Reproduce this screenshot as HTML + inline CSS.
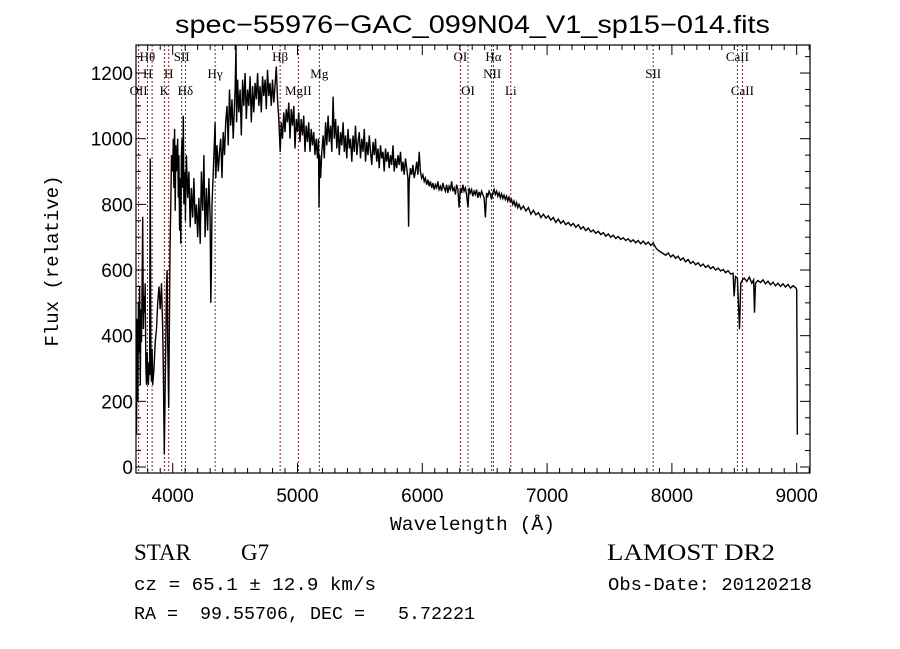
<!DOCTYPE html>
<html><head><meta charset="utf-8"><style>
body{margin:0;background:#fff;}
svg{display:block;font-family:"Liberation Sans",sans-serif;}
</style></head><body>
<svg id="c" width="900" height="649" viewBox="0 0 900 649">
<rect width="900" height="649" fill="#fff"/>
<text x="175" y="33" font-size="25" textLength="595" lengthAdjust="spacingAndGlyphs">spec−55976−GAC_099N04_V1_sp15−014.fits</text>
<g id="lines"></g>
<g id="spec"></g>
<g id="axes"></g>
<text x="390" y="530" font-size="19" textLength="165" lengthAdjust="spacingAndGlyphs" font-family="Liberation Mono, monospace">Wavelength (Å)</text>
<text transform="translate(58,261) rotate(-90)" font-size="19" text-anchor="middle" font-family="Liberation Mono, monospace">Flux (relative)</text>
<text x="134" y="560" font-size="23" font-family="Liberation Serif, serif">STAR</text>
<text x="241" y="560" font-size="23" font-family="Liberation Serif, serif">G7</text>
<text x="134" y="590" font-size="18" textLength="242" lengthAdjust="spacingAndGlyphs" font-family="Liberation Mono, monospace">cz = 65.1 ± 12.9 km/s</text>
<text x="134" y="619" font-size="18" textLength="341" lengthAdjust="spacingAndGlyphs" font-family="Liberation Mono, monospace" xml:space="preserve">RA =  99.55706, DEC =   5.72221</text>
<text x="607" y="560" font-size="23" textLength="168" lengthAdjust="spacingAndGlyphs" font-family="Liberation Serif, serif">LAMOST DR2</text>
<text x="608" y="590" font-size="18" textLength="204" lengthAdjust="spacingAndGlyphs" font-family="Liberation Mono, monospace">Obs-Date: 20120218</text>
</svg>
<script>
const wave=[
3700,3705,3710,3715,3720,3725,3730,3735,3740,3745,
3750,3755,3760,3765,3770,3775,3780,3785,3790,3795,
3800,3805,3810,3815,3820,3825,3830,3835,3840,3850,
3860,3870,3880,3890,3900,3910,3920,3925,3933,3940,
3950,3955,3960,3968,3978,3985,3990,4000,4005,4010,
4015,4020,4025,4030,4040,4045,4050,4055,4060,4065,
4070,4075,4080,4085,4090,4100,4102,4110,4120,4130,
4140,4150,4160,4170,4180,4190,4200,4210,4220,4230,
4240,4250,4260,4270,4280,4290,4300,4305,4310,4315,
4325,4335,4340,4345,4355,4365,4375,4385,4395,4405,
4415,4425,4435,4445,4455,4465,4475,4485,4500,4507,
4512,4520,4530,4540,4550,4560,4570,4580,4590,4600,
4610,4620,4630,4640,4650,4660,4670,4680,4690,4700,
4710,4720,4730,4740,4750,4760,4770,4780,4790,4800,
4810,4820,4830,4840,4850,4861,4870,4880,4890,4900,
4910,4920,4930,4940,4950,4960,4970,4980,4990,5000,
5010,5020,5030,5040,5050,5060,5070,5080,5090,5100,
5110,5120,5130,5140,5150,5160,5168,5172,5178,5185,
5195,5205,5215,5225,5235,5245,5255,5265,5275,5285,
5295,5305,5315,5325,5335,5345,5355,5365,5375,5385,
5395,5405,5415,5425,5435,5445,5455,5465,5475,5485,
5495,5505,5515,5525,5535,5545,5555,5565,5575,5585,
5595,5605,5615,5625,5635,5645,5655,5665,5675,5685,
5695,5705,5715,5725,5735,5745,5755,5765,5775,5785,
5795,5805,5815,5825,5835,5845,5855,5865,5875,5885,
5890,5895,5905,5915,5925,5935,5945,5955,5965,5975,
5985,5995,6005,6015,6025,6035,6045,6055,6065,6075,
6085,6095,6105,6115,6125,6135,6145,6155,6165,6175,
6185,6195,6205,6215,6225,6235,6245,6255,6265,6275,
6285,6295,6305,6315,6325,6335,6345,6355,6366,6375,
6385,6395,6405,6415,6425,6435,6445,6455,6465,6475,
6485,6495,6506,6515,6525,6535,6545,6555,6565,6575,
6585,6595,6605,6615,6625,6635,6645,6655,6665,6675,
6685,6695,6705,6715,6725,6735,6745,6755,6765,6775,
6790,6810,6830,6850,6870,6890,6910,6930,6950,6970,
6990,7010,7030,7050,7070,7090,7110,7130,7150,7170,
7190,7210,7230,7250,7270,7290,7310,7330,7350,7370,
7390,7410,7430,7450,7470,7490,7510,7530,7550,7570,
7590,7610,7630,7650,7670,7690,7710,7730,7750,7770,
7790,7810,7830,7850,7870,7890,7910,7930,7950,7970,
7990,8010,8030,8050,8070,8090,8110,8130,8150,8170,
8190,8210,8230,8250,8270,8290,8310,8330,8350,8370,
8390,8410,8430,8450,8470,8490,8498,8510,8525,8542,
8552,8565,8580,8600,8620,8640,8655,8662,8670,8690,
8710,8730,8750,8770,8790,8810,8830,8850,8870,8890,
8910,8930,8950,8970,8985,8995,9000,9003,9005,9007];
const flux=[
0,300,100,450,200,500,350,550,250,480,
380,560,762,420,520,470,560,300,250,350,
280,250,320,280,940,300,260,360,250,300,
380,420,500,550,480,560,420,300,40,250,
550,600,380,180,660,800,950,900,1000,850,
1030,780,980,900,1000,820,950,720,880,680,
950,1000,850,1070,800,900,750,950,820,900,
730,850,760,880,740,800,700,820,680,900,
780,950,700,850,720,880,760,500,600,800,
900,1000,1050,880,980,900,960,1000,880,1020,
950,1050,1100,980,1150,1040,1120,1000,1150,1285,
1050,1180,1080,1150,1010,1180,1100,1200,1060,1150,
1100,1190,1050,1160,1080,1170,1120,1200,1100,1160,
1080,1190,1130,1180,1090,1210,1130,1170,1100,1180,
1110,1160,1220,1120,1060,960,1050,1000,1080,1020,
1090,1050,1110,1000,1090,1040,1100,970,1060,1020,
1080,990,1060,1010,1070,960,1040,990,1050,960,
1030,980,1020,950,1000,940,1000,790,950,880,
960,1010,940,1050,980,1070,990,1040,960,1128,
1000,1060,970,1040,950,1020,980,1050,960,1010,
940,1030,970,1000,930,1010,960,1040,950,990,
1020,940,1000,960,1030,930,990,950,1010,960,
920,990,950,1000,930,970,910,980,940,960,
900,970,930,960,910,950,920,980,900,940,
910,950,920,960,900,930,890,940,910,880,
732,870,910,890,920,880,900,930,890,960,
900,880,890,870,880,860,875,855,870,850,
865,845,860,850,870,845,855,840,865,850,
840,860,835,855,845,870,840,850,830,860,
845,790,850,835,860,840,850,830,790,850,
835,845,825,840,830,845,820,838,825,840,
830,820,760,835,825,840,830,815,835,845,
830,840,825,835,820,832,818,828,815,825,
810,822,808,815,800,810,795,805,790,800,
785,795,780,790,770,782,768,775,760,770,
758,765,752,760,745,755,742,750,738,745,
735,742,730,738,725,732,720,728,716,722,
712,718,708,714,703,710,700,706,696,702,
693,698,690,695,686,692,683,690,680,688,
678,685,675,682,668,660,655,650,645,652,
640,646,636,642,630,637,625,632,620,626,
616,622,612,618,608,614,604,610,600,606,
597,602,592,598,588,590,520,580,575,420,
560,570,575,565,578,560,570,470,560,568,
562,570,558,566,555,563,552,560,550,558,
548,556,545,552,548,545,540,300,100,100];
const lineWaves=[3727,3798,3835,3933,3968,4072,4102,4340,4861,5007,5175,6305,6366,6555,6570,6709,7850,8525,8565];
const labels=[["Hθ",3798,1],["SII",4072,1],["Hβ",4861,1],["OI",6305,1],["Hα",6570,1],["CaII",8525,1],["H",3800,2],["H",3968,2],["Hγ",4340,2],["Mg",5175,2],["NII",6560,2],["SII",7850,2],["OII",3727,3],["K",3933,3],["Hδ",4102,3],["MgII",5007,3],["OI",6366,3],["Li",6709,3],["CaII",8565,3]];
const xTicks=[4000,5000,6000,7000,8000,9000];
const yTicks=[0,200,400,600,800,1000,1200];
const X0=136,X1=810,Y0=45,Y1=473;
const xs=l=>172.7+(l-4000)*0.1248;
const ys=f=>467-f*0.3283;
const NS="http://www.w3.org/2000/svg";
function mk(t,a,p){const e=document.createElementNS(NS,t);for(const k in a)e.setAttribute(k,a[k]);p.appendChild(e);return e;}
const gl=document.getElementById('lines'),gs=document.getElementById('spec'),ga=document.getElementById('axes');
lineWaves.forEach(l=>{const e=mk('line',{x1:xs(l),x2:xs(l),y1:Y0,y2:Y1,stroke:'#8b2020','stroke-width':1,'stroke-dasharray':'2,2'},gl);

});
labels.forEach(([t,l,r])=>{const e=mk('text',{x:xs(l),y:[0,61,78,95][r],'font-size':13,'text-anchor':'middle','font-family':'Liberation Serif, serif'},gl);e.textContent=t;

});
const cp=mk('clipPath',{id:'cl'},gs);mk('rect',{x:X0,y:Y0,width:X1-X0,height:Y1-Y0},cp);
const n=Math.min(wave.length,flux.length);
let d='';for(let i=0;i<n;i++){d+=(i?'L':'M')+xs(wave[i]).toFixed(1)+','+ys(flux[i]).toFixed(1);}
const p=mk('path',{d:d,fill:'none',stroke:'#000','stroke-width':1.4,'clip-path':'url(#cl)'},gs);


const fr=mk('rect',{x:X0,y:Y0,width:X1-X0,height:Y1-Y0,fill:'none',stroke:'#000','stroke-width':1.2},ga);


for(let l=3800;l<=9100;l+=100){const x=xs(l);const L=(l%1000===0)?10:5;
mk('line',{x1:x,x2:x,y1:Y1,y2:Y1-L,stroke:'#000'},ga);mk('line',{x1:x,x2:x,y1:Y0,y2:Y0+L,stroke:'#000'},ga);}
for(let f=0;f<=1250;f+=50){const y=ys(f);const L=(f%200===0)?10:5;
mk('line',{x1:X0,x2:X0+L,y1:y,y2:y,stroke:'#000'},ga);mk('line',{x1:X1,x2:X1-L,y1:y,y2:y,stroke:'#000'},ga);}
xTicks.forEach(t=>{const e=mk('text',{x:xs(t),y:502,'font-size':19,'text-anchor':'middle'},ga);e.textContent=t;

});
yTicks.forEach(t=>{const e=mk('text',{x:133,y:ys(t)+7,'font-size':19,'text-anchor':'end'},ga);e.textContent=t;

});
</script>
</body></html>
